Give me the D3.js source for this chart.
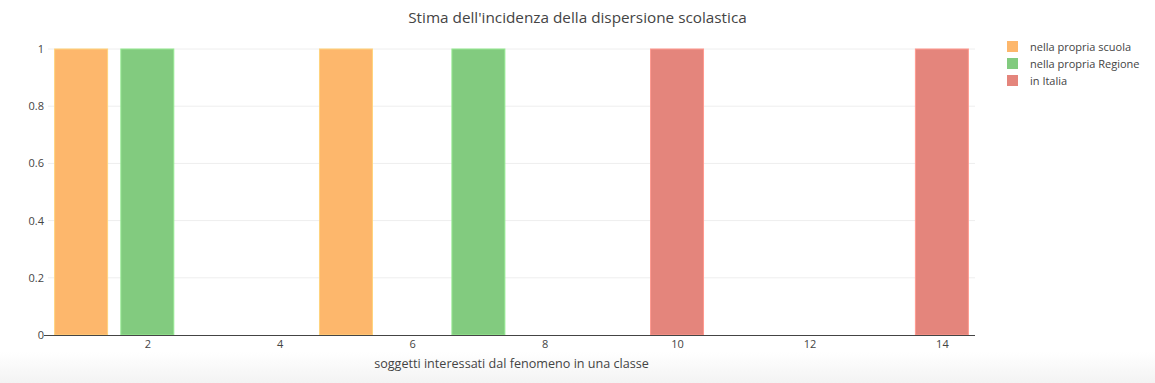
<!DOCTYPE html>
<html lang="it">
<head>
	<meta charset="UTF-8">
	<title>Stima dell'incidenza della dispersione scolastica</title>
	<script src="https://d3js.org/d3.v7.min.js"></script>
	<style>
		body{
			margin: 0;
			font-family: "Open Sans", sans-serif;
			background: #fff;
		}
		#chart{
			width: 1155px;
			height: 383px;
		}
	</style>
</head>
<body>
	<div id="chart"></div>
	<script>
		// dati
		var seriesNames = ['nella propria scuola', 'nella propria Regione', 'in Italia'];
		var seriesColors = ['#fdb76c', '#82cb7f', '#e4857c'];
		var scuolaX = [1, 5];
		var regioneX = [2, 7];
		var italiaX = [10, 14];
		var scuolaY = [1, 1];
		var regioneY = [1, 1];
		var italiaY = [1, 1];
		var xTicks = [2, 4, 6, 8, 10, 12, 14];
		var yTicks = [0, 0.2, 0.4, 0.6, 0.8, 1];

		var width = 1155;
		var height = 383;
		var margin = {left: 48, right: 180, top: 49, bottom: 48};
		var plotW = width - margin.left - margin.right;
		var plotH = height - margin.top - margin.bottom;

		var svg = d3.select('#chart').append('svg')
			.attr('width', width)
			.attr('height', height);

		// sfumatura grigia in basso
		var defs = svg.append('defs');
		var grad = defs.append('linearGradient').attr('id', 'fade')
			.attr('x1', 0).attr('x2', 0).attr('y1', 0).attr('y2', 1);
		grad.append('stop').attr('offset', '0%').attr('stop-color', '#fff');
		grad.append('stop').attr('offset', '100%').attr('stop-color', '#f3f3f3');
		svg.append('rect').attr('x', 0).attr('y', 352).attr('width', width).attr('height', 31)
			.attr('fill', 'url(#fade)');

		var xScale = d3.scaleLinear().domain([0.5, 14.5]).range([0, plotW]);
		var yScale = d3.scaleLinear().domain([0, 1]).range([plotH, 0]);

		var g = svg.append('g').attr('transform', 'translate(' + margin.left + ',' + margin.top + ')');

		// griglia
		g.selectAll('.grid').data(yTicks.filter(function(d){ return d > 0; }))
			.enter().append('line')
			.attr('x1', 0).attr('x2', plotW)
			.attr('y1', function(d){ return yScale(d); })
			.attr('y2', function(d){ return yScale(d); })
			.attr('stroke', '#eee').attr('stroke-width', 1);

		var series = [
			{name: seriesNames[0], color: seriesColors[0], x: scuolaX, y: scuolaY},
			{name: seriesNames[1], color: seriesColors[1], x: regioneX, y: regioneY},
			{name: seriesNames[2], color: seriesColors[2], x: italiaX, y: italiaY}
		];

		var barW = xScale(0.8) - xScale(0);
		series.forEach(function(s){
			var pts = s.x.map(function(x, i){ return [x, s.y[i]]; });
			g.selectAll(null).data(pts).enter().append('rect')
				.attr('x', function(d){ return xScale(d[0]) - barW / 2; })
				.attr('y', function(d){ return yScale(d[1]); })
				.attr('width', barW)
				.attr('height', function(d){ return plotH - yScale(d[1]); })
				.attr('fill', s.color)
				.attr('stroke', d3.color(s.color).brighter(0.4))
				.attr('stroke-width', 1);
		});

		// assi
		var yAxis = d3.axisLeft(yScale).tickValues(yTicks).tickSize(0).tickPadding(4)
			.tickFormat(function(d){ return d3.format('')(d); });
		var yg = g.append('g').call(yAxis);
		yg.select('.domain').remove();
		yg.selectAll('text').attr('fill', '#444').style('font-size', '11px').style('font-family', '"Open Sans", sans-serif');

		var xAxis = d3.axisBottom(xScale).tickValues(xTicks).tickSize(0).tickPadding(5);
		var xg = g.append('g').attr('transform', 'translate(0,' + plotH + ')').call(xAxis);
		xg.select('.domain').remove();
		xg.selectAll('text').attr('fill', '#444').style('font-size', '11px').style('font-family', '"Open Sans", sans-serif');

		g.append('line').attr('x1', -4).attr('x2', plotW)
			.attr('y1', plotH + 0.5).attr('y2', plotH + 0.5)
			.attr('stroke', '#444').attr('stroke-width', 1);

		// titoli
		svg.append('text').attr('x', width / 2).attr('y', 23)
			.attr('text-anchor', 'middle').attr('fill', '#444')
			.style('font-size', '15.3px')
			.text("Stima dell'incidenza della dispersione scolastica");

		svg.append('text').attr('x', margin.left + plotW / 2).attr('y', 368)
			.attr('text-anchor', 'middle').attr('fill', '#444')
			.style('font-size', '12.6px')
			.text('soggetti interessati dal fenomeno in una classe');

		// legenda
		var leg = svg.append('g').attr('transform', 'translate(1007,41)');
		var items = leg.selectAll('g').data(series).enter().append('g')
			.attr('transform', function(d, i){ return 'translate(0,' + (i * 17) + ')'; });
		items.append('rect').attr('width', 11).attr('height', 11)
			.attr('fill', function(d){ return d.color; });
		items.append('text').attr('x', 23).attr('y', 9.5)
			.attr('fill', '#444').style('font-size', '11px')
			.text(function(d){ return d.name; });
	</script>
</body>
</html>
